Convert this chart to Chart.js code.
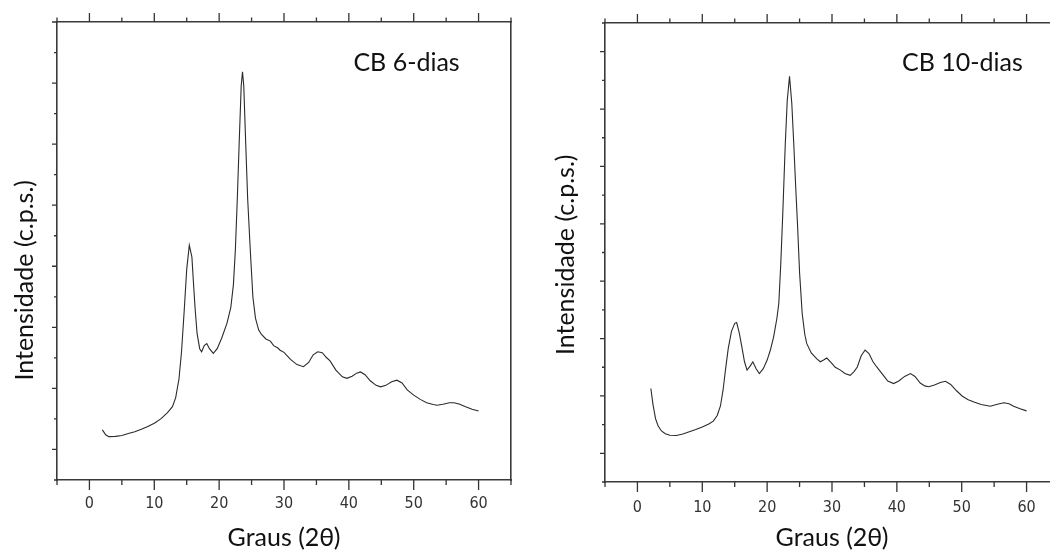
<!DOCTYPE html>
<html>
<head>
<meta charset="utf-8">
<script src="https://cdn.jsdelivr.net/npm/chart.js@4.4.0/dist/chart.umd.min.js"></script>
<style>
  html, body { margin: 0; padding: 0; background: #fff; overflow: hidden; width: 1050px; height: 556px; }
  .panel { position: absolute; top: 0; }
  #left { left: 0; width: 525px; height: 556px; }
  #right { left: 530px; width: 600px; height: 556px; }
</style>
</head>
<body>
<div class="panel" id="left"><canvas id="chart6" width="525" height="556"></canvas></div>
<div class="panel" id="right"><canvas id="chart10" width="600" height="556"></canvas></div>
<script>
// tick labels on the 2-theta axis
var xTickLabels = [0, 10, 20, 30, 40, 50, 60];

// CB 6-dias
var angle6 = [2.0, 2.5, 3.0, 4, 5, 6, 7, 8, 9, 10, 11, 12, 12.8, 13.3, 13.8, 14.2, 14.6, 15.0, 15.4, 15.8,
  16.0, 16.3, 16.6, 17.0, 17.3, 17.7, 18.1, 18.5, 19.1, 19.7, 20.4, 21.2, 21.8, 22.2, 22.5, 22.8, 23.1, 23.4,
  23.6, 23.8, 24.1, 24.4, 24.8, 25.2, 25.6, 26.1, 26.5, 27.2, 27.9, 28.4, 29.0, 29.4, 30.0, 31.0, 32.0, 33.0,
  33.8, 34.5, 35.2, 35.9, 36.5, 37.1, 38.0, 39.0, 39.7, 40.5, 41.2, 41.8, 42.5, 43.3, 44.2, 44.9, 45.7, 46.6,
  47.4, 48.2, 49.0, 50.0, 51.0, 52.0, 53.0, 53.6, 54.5, 55.5, 56.2, 57.0, 58.0, 59.0, 60.0];
var counts6 = [164, 148, 142, 143, 146, 152, 158, 166, 175, 186, 200, 220, 240, 270, 330, 420, 550, 690, 769, 730,
  660, 560, 480, 430, 420, 440, 447, 430, 415, 430, 465, 513, 565, 640, 753, 920, 1110, 1290,
  1337, 1290, 1100, 920, 753, 600, 530, 491, 478, 462, 455, 440, 433, 425, 418, 395, 378, 371,
  385, 410, 420, 417, 402, 390, 360, 338, 333, 340, 350, 354, 345, 325, 310, 305, 310, 322,
  327, 318, 295, 278, 264, 253, 247, 245, 248, 253, 253, 249, 240, 232, 226];

// CB 10-dias
var angle10 = [2.07, 2.4, 2.8, 3.2, 3.7, 4.3, 5.0, 6.0, 7.0, 8.0, 9.0, 10.0, 11.0, 11.7, 12.3, 12.8, 13.2, 13.6,
  14.0, 14.5, 15.0, 15.3, 15.7, 16.1, 16.5, 16.9, 17.4, 17.8, 18.3, 18.8, 19.4, 20.0, 20.5, 21.0, 21.5, 21.8,
  22.1, 22.4, 22.8, 23.1, 23.45, 23.8, 24.1, 24.4, 24.7, 25.0, 25.4, 25.8, 26.1, 26.8, 27.7, 28.2, 28.7, 29.2,
  29.8, 30.5, 31.3, 32.0, 32.8, 33.4, 33.9, 34.5, 35.1, 35.7, 36.3, 36.9, 37.8, 38.6, 39.5, 40.3, 41.2, 42.1,
  42.8, 43.6, 44.3, 44.9, 45.8, 46.7, 47.5, 48.3, 49.2, 50.1, 51.0, 52.0, 53.0, 54.4, 55.5, 56.5, 57.3, 58.0,
  59.0, 60.0];
var counts10 = [326, 270, 220, 195, 178, 168, 163, 162, 167, 175, 183, 192, 202, 212, 232, 265, 320, 395,
  465, 525, 553, 556, 520, 471, 420, 390, 405, 419, 395, 378, 395, 425, 460, 506, 570, 623,
  760, 930, 1181, 1330, 1414, 1320, 1181, 1030, 890, 730, 588, 515, 483, 450, 428, 419, 425, 432,
  418, 400, 390, 378, 372, 385, 401, 440, 460, 448, 420, 401, 375, 352, 343, 352, 368, 378,
  368, 345, 335, 332, 338, 347, 351, 340, 318, 299, 287, 278, 270, 264, 271, 276, 273, 264,
  255, 248];

var titleFont = "Lato, 'Open Sans', sans-serif";
var numFont = "'Liberation Sans Narrow', 'Arial Narrow', 'DejaVu Sans Condensed', sans-serif";

// outward ticks: long on major, short on minor
var tickMarks = {
  id: 'tickMarks',
  afterDraw: function (chart) {
    var ctx = chart.ctx, a = chart.chartArea;
    var sx = chart.scales.x, sy = chart.scales.y;
    ctx.save();
    ctx.strokeStyle = '#333';
    ctx.lineWidth = 1.3;
    ctx.beginPath();
    for (var v = sx.min; v <= sx.max; v += 5) {
      var px = sx.getPixelForValue(v);
      var major = v % 10 === 0;
      ctx.moveTo(px, a.bottom); ctx.lineTo(px, a.bottom + (major ? 10 : 5));
      ctx.moveTo(px, a.top); ctx.lineTo(px, a.top - (major ? 9 : 4.5));
    }
    for (var w = sy.min; w <= sy.max; w += 100) {
      var py = sy.getPixelForValue(w);
      var big = (w / 100) % 2 === 1;
      ctx.moveTo(a.left, py); ctx.lineTo(a.left - (big ? 5 : 3), py);
    }
    ctx.stroke();
    ctx.restore();
  }
};

// rotated y title and the sample name
var panelText = {
  id: 'panelText',
  afterDraw: function (chart, args, opts) {
    var ctx = chart.ctx, a = chart.chartArea;
    ctx.save();
    ctx.fillStyle = '#111';
    ctx.font = opts.size + 'px ' + titleFont;
    ctx.textAlign = 'center';
    ctx.textBaseline = 'middle';
    ctx.translate(opts.yTitleX, a.top + (a.bottom - a.top) * opts.yTitlePos);
    ctx.rotate(-Math.PI / 2);
    ctx.fillText(opts.yTitle, 0, 0);
    ctx.restore();

    ctx.save();
    ctx.fillStyle = '#111';
    ctx.font = opts.size + 'px ' + titleFont;
    ctx.textAlign = 'left';
    ctx.textBaseline = 'middle';
    ctx.fillText(opts.note, chart.scales.x.getPixelForValue(opts.noteAt[0]), chart.scales.y.getPixelForValue(opts.noteAt[1]));
    ctx.restore();
  }
};

function makeChart(id, angles, counts, yMax, box, text) {
  var ctx = document.getElementById(id).getContext('2d');
  return new Chart(ctx, {
    type: 'line',
    data: {
      datasets: [{
        data: angles.map(function (a, i) { return { x: a, y: counts[i] }; }),
        borderColor: '#2b2b2b',
        borderWidth: 1.1,
        pointRadius: 0,
        tension: 0,
        fill: false
      }]
    },
    options: {
      responsive: false,
      animation: false,
      layout: { padding: { left: 0, top: 0, right: box.padRight, bottom: 0 } },
      plugins: { legend: { display: false }, tooltip: { enabled: false }, panelText: text },
      scales: {
        x: {
          type: 'linear', position: 'bottom', min: -5, max: 65,
          afterBuildTicks: function (s) { s.ticks = xTickLabels.map(function (v) { return { value: v }; }); },
          afterFit: function (s) { s.height = box.bottomH; },
          grid: { drawOnChartArea: false, drawTicks: false },
          border: { display: true, color: '#3a3a3a', width: 1.6 },
          ticks: { padding: box.labelPad, color: '#333', font: { family: numFont, size: 16 }, maxRotation: 0 },
          title: { display: true, text: 'Graus (2θ)', color: '#111', font: { family: titleFont, size: text.size }, padding: { top: 0, bottom: 3 } }
        },
        x2: {
          type: 'linear', position: 'top', min: -5, max: 65,
          afterFit: function (s) { s.height = box.topH; },
          grid: { drawOnChartArea: false, drawTicks: false },
          border: { display: true, color: '#3a3a3a', width: 1.6 },
          ticks: { display: false }
        },
        y: {
          type: 'linear', position: 'left', min: 0, max: yMax,
          afterFit: function (s) { s.width = box.leftW; },
          grid: { drawOnChartArea: false, drawTicks: false },
          border: { display: true, color: '#3a3a3a', width: 1.6 },
          ticks: { display: false }
        },
        y2: {
          type: 'linear', position: 'right', min: 0, max: yMax,
          afterFit: function (s) { s.width = 0; },
          grid: { drawOnChartArea: false, drawTicks: false },
          border: { display: true, color: '#3a3a3a', width: 1.6 },
          ticks: { display: false }
        }
      }
    },
    plugins: [tickMarks, panelText]
  });
}

makeChart('chart6', angle6, counts6, 1500,
  { leftW: 57, topH: 22, bottomH: 76, padRight: 14, labelPad: 14 },
  { yTitle: 'Intensidade (c.p.s.)', yTitleX: 25, yTitlePos: 0.564, note: 'CB 6-dias', noteAt: [40.7, 1365], size: 25 });

makeChart('chart10', angle10, counts10, 1600,
  { leftW: 75, topH: 23, bottomH: 74, padRight: 71, labelPad: 16 },
  { yTitle: 'Intensidade (c.p.s.)', yTitleX: 36, yTitlePos: 0.505, note: 'CB 10-dias', noteAt: [40.8, 1461], size: 25 });
</script>
</body>
</html>
